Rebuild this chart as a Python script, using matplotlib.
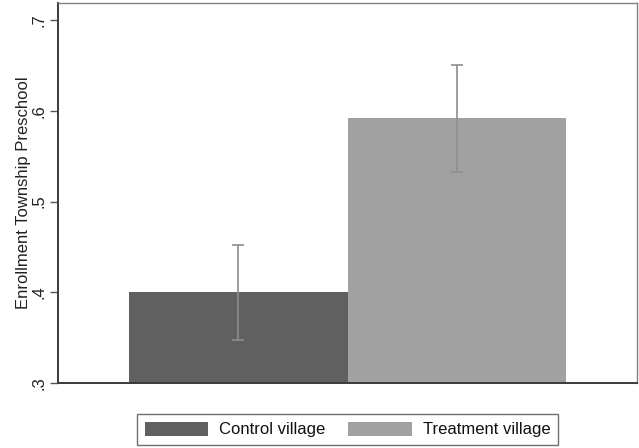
import matplotlib
import matplotlib.pyplot as plt

matplotlib.use("Agg")

plt.rcParams["font.family"] = ["Liberation Sans", "DejaVu Sans"]

# Values
groups = ["Control village", "Treatment village"]
means = [0.400, 0.592]
ci_low = [0.347, 0.533]
ci_high = [0.452, 0.651]
colors = ["#606060", "#a1a1a1"]
y_ticks = [0.3, 0.4, 0.5, 0.6, 0.7]
y_tick_labels = [".3", ".4", ".5", ".6", ".7"]

fig = plt.figure(figsize=(6.39, 4.48), dpi=100)
ax = fig.add_axes([0.0908, 0.1451, 0.9969 - 0.0908, 0.9933 - 0.1451])

handles = []
for i, (g, m, lo, hi, c) in enumerate(zip(groups, means, ci_low, ci_high, colors)):
    h = ax.bar(i, m - 0.3, bottom=0.3, width=1.0, color=c, label=g, zorder=2)
    handles.append(h)
    ax.errorbar(i, m, yerr=[[m - lo], [hi - m]], fmt="none", ecolor="#8e8e8e",
                elinewidth=1.2, capsize=4, capthick=1.2, zorder=3)

ax.set_xlim(-0.825, 1.825)
ax.set_ylim(0.3, 0.719)
ax.set_xticks([])
ax.set_yticks(y_ticks)
ax.set_yticklabels(y_tick_labels, rotation=90, va="center", fontsize=12,
                   color="#222222")
ax.tick_params(axis="y", length=6, width=1, color="#555555", pad=2)
ax.set_ylabel("Enrollment Township Preschool", fontsize=12, color="#222222",
              labelpad=1)

for side in ["left", "bottom"]:
    ax.spines[side].set_color("#3a3a3a")
    ax.spines[side].set_linewidth(1.4)
for side in ["top", "right"]:
    ax.spines[side].set_color("#808080")
    ax.spines[side].set_linewidth(1.0)

leg = fig.legend(handles=handles, labels=groups, loc="center",
                 bbox_to_anchor=(347.5 / 639, 1 - 429.5 / 448), ncol=2,
                 fontsize=12, frameon=True, fancybox=False, framealpha=1,
                 edgecolor="#707070", handlelength=3.8, handleheight=0.95,
                 handletextpad=0.66, columnspacing=1.4, borderpad=0.45)
leg.get_frame().set_linewidth(1.0)
for t in leg.get_texts():
    t.set_color("#111111")

fig.savefig("out.png", dpi=100)
